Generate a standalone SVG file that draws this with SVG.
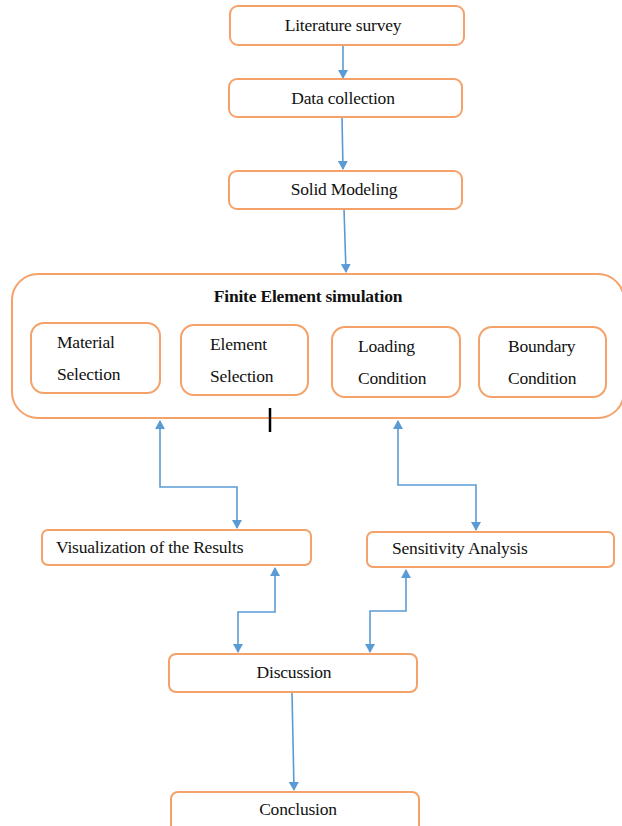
<svg xmlns="http://www.w3.org/2000/svg" width="622" height="826" viewBox="0 0 622 826">
<defs>
<marker id="ah" markerWidth="10" markerHeight="10" refX="8" refY="5" orient="auto-start-reverse" markerUnits="userSpaceOnUse">
<path d="M0,0 L9,5 L0,10 Z" fill="#5B9BD5"/>
</marker>
<style>
.box{fill:#fff;stroke:#F4A26A;stroke-width:2}
.t{font-family:"Liberation Serif",serif;font-size:17.5px;letter-spacing:-0.2px;fill:#111}
.c{text-anchor:middle}
.b{font-weight:bold}
.ln{fill:none;stroke:#5B9BD5;stroke-width:1.6}
</style>
</defs>
<rect width="622" height="826" fill="#fff"/>
<g id="connectors">
<path class="ln" d="M343,45 L343,78" marker-end="url(#ah)"/>
<path class="ln" d="M342,117 L343,169" marker-end="url(#ah)"/>
<path class="ln" d="M344,209 L346,272" marker-end="url(#ah)"/>
<path class="ln" d="M160,421 L160,487 L237,487 L237,528" marker-start="url(#ah)" marker-end="url(#ah)"/>
<path class="ln" d="M398,421 L398,485 L476,485 L476,530" marker-start="url(#ah)" marker-end="url(#ah)"/>
<path class="ln" d="M275,568 L275,612 L238,612 L238,652" marker-start="url(#ah)" marker-end="url(#ah)"/>
<path class="ln" d="M406,570 L406,611 L370,611 L370,652" marker-start="url(#ah)" marker-end="url(#ah)"/>
<path class="ln" d="M292,692 L294,790" marker-end="url(#ah)"/>
</g>
<g id="literature">
<rect class="box" x="230" y="6" width="234" height="39" rx="8"/>
<text class="t c" x="343" y="31">Literature survey</text>
</g>
<g id="data">
<rect class="box" x="229" y="79" width="233" height="38" rx="8"/>
<text class="t c" x="343" y="104">Data collection</text>
</g>
<g id="solid">
<rect class="box" x="229" y="171" width="233" height="38" rx="8"/>
<text class="t c" x="344" y="195">Solid Modeling</text>
</g>
<g id="fem">
<rect class="box" x="12" y="274" width="612" height="144" rx="26"/>
<text class="t c b" x="308" y="302">Finite Element simulation</text>
</g>
<g id="material">
<rect class="box" x="31" y="323" width="129" height="70" rx="13"/>
<text class="t" x="57" y="348">Material</text>
<text class="t" x="57" y="380">Selection</text>
</g>
<g id="element">
<rect class="box" x="181" y="325" width="127" height="70" rx="13"/>
<text class="t" x="210" y="350">Element</text>
<text class="t" x="210" y="382">Selection</text>
</g>
<g id="loading">
<rect class="box" x="332" y="327" width="128" height="70" rx="13"/>
<text class="t" x="358" y="352">Loading</text>
<text class="t" x="358" y="384">Condition</text>
</g>
<g id="boundary">
<rect class="box" x="479" y="327" width="127" height="70" rx="13"/>
<text class="t" x="508" y="352">Boundary</text>
<text class="t" x="508" y="384">Condition</text>
</g>
<line x1="270" y1="408" x2="270" y2="432" stroke="#000" stroke-width="2.5"/>
<g id="visualization">
<rect class="box" x="42" y="530" width="269" height="35" rx="6"/>
<text class="t" x="56" y="553">Visualization of the Results</text>
</g>
<g id="sensitivity">
<rect class="box" x="367" y="532" width="247" height="35" rx="6"/>
<text class="t" x="392" y="554">Sensitivity Analysis</text>
</g>
<g id="discussion">
<rect class="box" x="169" y="654" width="248" height="38" rx="7"/>
<text class="t c" x="294" y="678">Discussion</text>
</g>
<g id="conclusion">
<rect class="box" x="171" y="792" width="248" height="40" rx="7"/>
<text class="t c" x="298" y="815">Conclusion</text>
</g>
</svg>
